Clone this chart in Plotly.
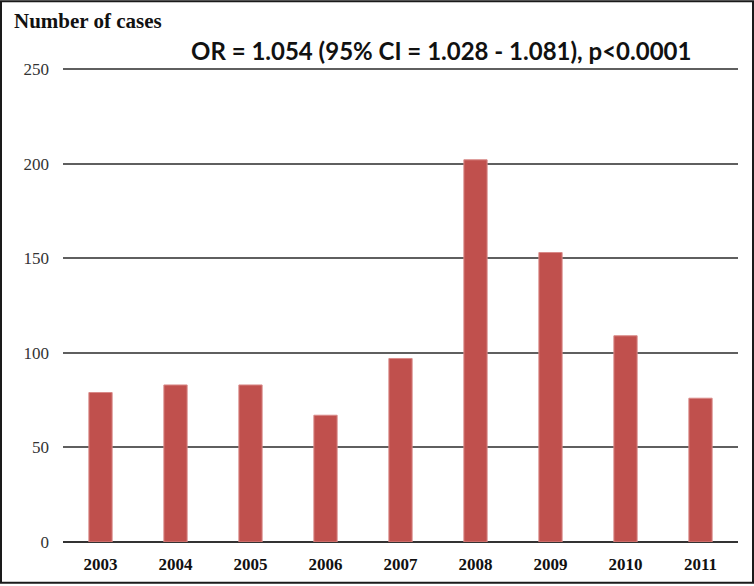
import plotly.graph_objects as go

years = ["2003", "2004", "2005", "2006", "2007", "2008", "2009", "2010", "2011"]
cases = [79, 83, 83, 67, 97, 202, 153, 109, 76]
y_ticks = [0, 50, 100, 150, 200, 250]

W, H = 754, 586
ML, MR, MT, MB = 63, 16, 67, 42
pw, ph = W - ML - MR, H - MT - MB
# headroom above 250 so the top grid line is still drawn
y_top = ph / 1.9

fig = go.Figure(
    go.Bar(
        x=years,
        y=cases,
        width=0.31,
        marker=dict(color="#C0504D", line=dict(color="#D98A88", width=1)),
    )
)

fig.update_layout(
    width=W,
    height=H,
    margin=dict(l=ML, r=MR, t=MT, b=MB),
    paper_bgcolor="white",
    plot_bgcolor="white",
    showlegend=False,
    xaxis=dict(
        showgrid=False,
        showline=False,
        ticks="",
        ticklabelstandoff=10,
        tickfont=dict(family="Liberation Serif", size=17, color="#111111", weight="bold"),
    ),
    yaxis=dict(
        range=[0, y_top],
        tickvals=y_ticks,
        showgrid=True,
        gridcolor="#5f5f5f",
        gridwidth=1.5,
        zeroline=True,
        zerolinecolor="#333333",
        zerolinewidth=1.5,
        ticks="",
        ticklabelstandoff=13,
        tickfont=dict(family="Liberation Serif", size=17, color="#333333"),
    ),
    annotations=[
        dict(
            text="<b>Number of cases</b>",
            xref="paper", yref="paper",
            x=-(ML - 12) / pw, y=1 + (MT - 21) / ph,
            xanchor="left", yanchor="middle",
            showarrow=False,
            font=dict(family="Liberation Serif", size=21, color="#111111"),
        ),
        dict(
            text="<b>OR = 1.054 (95% CI = 1.028 - 1.081), p<0.0001</b>",
            xref="paper", yref="paper",
            x=(441 - ML) / pw, y=1 + (MT - 50) / ph,
            xanchor="center", yanchor="middle",
            showarrow=False,
            font=dict(family="Lato", size=24, color="#111111"),
        ),
    ],
    shapes=[
        dict(
            type="rect",
            xref="paper", yref="paper",
            x0=-(ML - 1) / pw, x1=1 + (MR - 1) / pw,
            y0=-(MB - 1) / ph, y1=1 + (MT - 1) / ph,
            line=dict(color="#1a1a1a", width=2),
        )
    ],
)

fig.write_html(
    "out.html",
    config={"displayModeBar": False},
    post_script="document.body.style.margin='0';",
)
